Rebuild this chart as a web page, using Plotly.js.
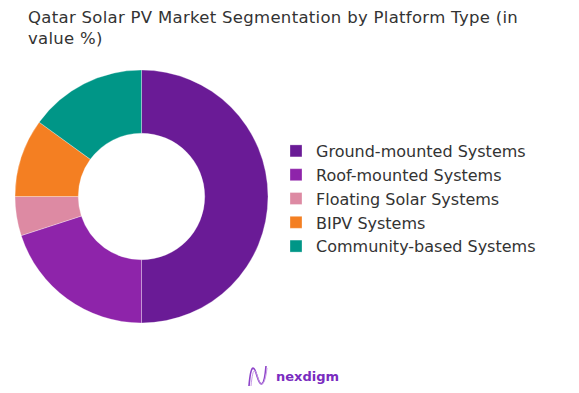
<!DOCTYPE html>
<html>
<head>
<meta charset="utf-8">
<script src="https://cdn.plot.ly/plotly-3.0.1.min.js"></script>
<style>html,body{margin:0;padding:0;background:#fff;}#chart{width:579px;height:393px;}
#chart .gtitle{letter-spacing:0.3px;}
</style>
</head>
<body>
<div id="chart"></div>
<script>
const categories = ["Ground-mounted Systems", "Roof-mounted Systems", "Floating Solar Systems", "BIPV Systems", "Community-based Systems"];
const values = [50, 20, 5, 10, 15];
const colors = ["#6A1B96", "#8E24AA", "#DD8AA3", "#F47F22", "#009687"];

const W = 579, H = 393;
const px = v => v / W;
const py = v => (H - v) / H;

const data = [{
  type: "pie",
  labels: categories,
  values: values,
  hole: 0.5,
  sort: false,
  direction: "clockwise",
  rotation: 0,
  textinfo: "none",
  hoverinfo: "label+percent",
  marker: {colors: colors, line: {color: "rgba(255,255,255,0.5)", width: 0.6}},
  domain: {x: [px(15), px(268)], y: [py(323), py(70)]}
}];

const layout = {
  width: W, height: H,
  margin: {l: 0, r: 0, t: 0, b: 0},
  paper_bgcolor: "#fff",
  font: {family: "'DejaVu Sans', sans-serif", color: "#333"},
  title: {
    text: "Qatar Solar PV Market Segmentation by Platform Type (in<br>value %)",
    x: px(28), xanchor: "left", xref: "paper",
    y: py(23), yanchor: "top", yref: "paper",
    font: {size: 16.5, color: "#333", family: "'DejaVu Sans', sans-serif"}
  },
  showlegend: true,
  legend: {
    x: px(276), xanchor: "left",
    y: py(134), yanchor: "top",
    font: {size: 16, color: "#333", family: "'DejaVu Sans', sans-serif"},
    itemwidth: 30
  },
  annotations: [{
    text: "<b>nexdigm</b>", xref: "paper", yref: "paper",
    x: px(274), y: py(376), xanchor: "left", yanchor: "middle",
    showarrow: false, font: {size: 13, color: "#7A2CC0", family: "'DejaVu Sans', sans-serif"}
  }],
  shapes: [
    {type: "path", xref: "paper", yref: "paper",
     path: `M ${px(249)} ${py(386)} C ${px(251)} ${py(362)} ${px(254)} ${py(366)} ${px(257)} ${py(376)} C ${px(260)} ${py(386)} ${px(264)} ${py(390)} ${px(266)} ${py(366)}`,
     line: {color: "#8E44C9", width: 1.6}},
    {type: "path", xref: "paper", yref: "paper",
     path: `M ${px(251)} ${py(386)} C ${px(253)} ${py(366)} ${px(255)} ${py(368)} ${px(258)} ${py(378)} C ${px(261)} ${py(388)} ${px(265)} ${py(386)} ${px(267)} ${py(368)}`,
     line: {color: "#C89BE6", width: 1}}
  ]
};

Plotly.newPlot("chart", data, layout, {displayModeBar: false, staticPlot: true});
</script>
</body>
</html>
